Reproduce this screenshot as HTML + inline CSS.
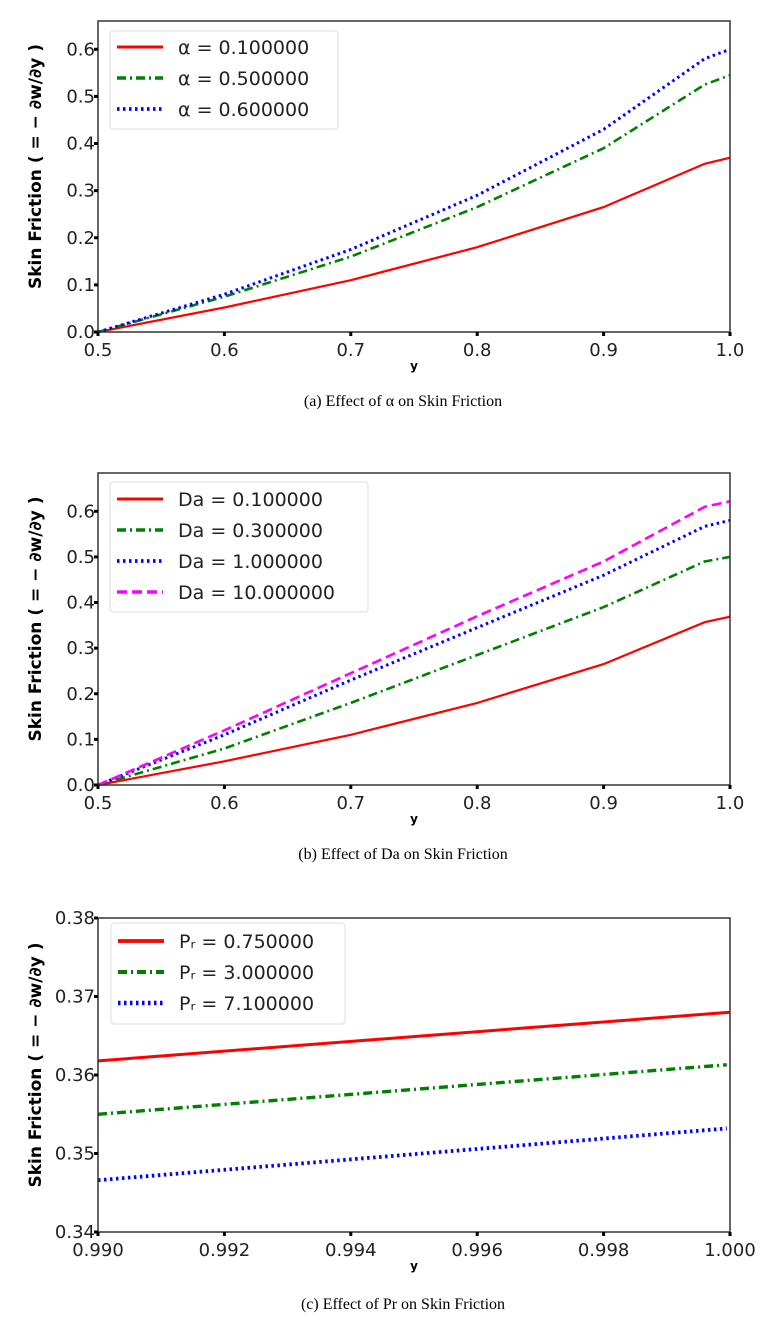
<!DOCTYPE html>
<html><head><meta charset="utf-8">
<style>
body{margin:0;background:#fff;}
svg{display:block;}
text{font-family:"DejaVu Sans","Liberation Sans",sans-serif;}
.cap{font-family:"Liberation Serif",serif;font-size:16px;}
</style></head>
<body>
<svg id="fig" width="766" height="1322" xmlns="http://www.w3.org/2000/svg"></svg>
<script>
// ---- Chart A data ----
const aX = [0.5,0.6,0.7,0.8,0.9,0.98,1.0];
const aRed = [0,0.052,0.11,0.18,0.265,0.357,0.37];
const aGreen = [0,0.075,0.16,0.265,0.39,0.525,0.545];
const aBlue = [0,0.08,0.175,0.29,0.43,0.58,0.6];
const aLabels = ["\u03b1 = 0.100000","\u03b1 = 0.500000","\u03b1 = 0.600000"];
const aXTicks = [0.5,0.6,0.7,0.8,0.9,1.0];
const aYTicks = [0,0.1,0.2,0.3,0.4,0.5,0.6];
// ---- Chart B data ----
const bX = [0.5,0.6,0.7,0.8,0.9,0.98,1.0];
const bRed = [0,0.052,0.11,0.18,0.265,0.357,0.369];
const bGreen = [0,0.08,0.18,0.285,0.39,0.49,0.50];
const bBlue = [0,0.11,0.23,0.345,0.46,0.567,0.58];
const bMag = [0,0.12,0.245,0.37,0.49,0.61,0.622];
const bLabels = ["Da = 0.100000","Da = 0.300000","Da = 1.000000","Da = 10.000000"];
// ---- Chart C data ----
const cX = [0.990,1.000];
const cXg = [0.990,0.99995];
const cRed = [0.3618,0.3680];
const cGreen = [0.3550,0.3613];
const cBlue = [0.3466,0.3532];
const cLabels = ["P\u1d63 = 0.750000","P\u1d63 = 3.000000","P\u1d63 = 7.100000"];
const cXTicks = [0.990,0.992,0.994,0.996,0.998,1.000];
const cYTicks = [0.34,0.35,0.36,0.37,0.38];

const NS="http://www.w3.org/2000/svg";
const svg=document.getElementById('fig');
function mk(tag,attrs,parent){const e=document.createElementNS(NS,tag);for(const k in attrs)e.setAttribute(k,attrs[k]);(parent||svg).appendChild(e);return e;}

const styles={
 red:{stroke:'#ff0000',dash:'',w:2.2},
 green:{stroke:'#008000',dash:'9,4,2,4',w:2.6},
 blue:{stroke:'#0000ff',dash:'2.5,3.5',w:3},
 mag:{stroke:'#ff00ff',dash:'10,5',w:2.6}
};

function chart(cfg){
 const g=mk('g',{});
 
 
 const L=98,R=730,T=cfg.top,B=cfg.bottom;
 const sx=v=>L+(v-cfg.xmin)/(cfg.xmax-cfg.xmin)*(R-L);
 const sy=v=>B-(v-cfg.ymin)/(cfg.ymax-cfg.ymin)*(B-T);
 cfg.series.forEach(s=>{
  const st=styles[s.style];
  const pts=s.x.map((x,i)=>sx(x).toFixed(1)+','+sy(s.y[i]).toFixed(1)).join(' ');
  const p=mk('polyline',{points:pts,fill:'none',stroke:st.stroke,'stroke-width':st.w+(cfg.thick?0.8:0),'stroke-dasharray':st.dash},g);
  
  
 });
 const fr=mk('rect',{x:L,y:T,width:R-L,height:B-T,fill:'none',stroke:'#333','stroke-width':1.5},g);
 
 
 cfg.xticks.forEach(v=>{
  mk('line',{x1:sx(v),x2:sx(v),y1:B,y2:B+4,stroke:'#000','stroke-width':3},g);
  const t=mk('text',{x:sx(v),y:B+24,'font-size':18,'text-anchor':'middle',fill:'#222'},g);
  t.textContent=v.toFixed(cfg.xdec);
  
  
 });
 cfg.yticks.forEach(v=>{
  mk('line',{x1:L-4,x2:L,y1:sy(v),y2:sy(v),stroke:'#000','stroke-width':3},g);
  const t=mk('text',{x:L-3,y:sy(v)+6,'font-size':18,'text-anchor':'end',fill:'#222'},g);
  t.textContent=v.toFixed(cfg.ydec);
  
  
 });
 const xl=mk('text',{x:(L+R)/2,y:B+38,'font-size':12,'font-weight':'bold','text-anchor':'middle'},g);
 xl.textContent='y';
 
 
 const cy=(T+B)/2-10;
 const yl=mk('text',{x:0,y:0,'font-size':17,'font-weight':'bold','text-anchor':'middle',transform:`translate(41,${cy}) rotate(-90)`},g);
 yl.textContent='Skin Friction ( = \u2212 \u2202w/\u2202y )';
 
 
 const lg=mk('g',{},g);
 
 
 mk('rect',{x:cfg.lx,y:cfg.ly,width:cfg.lw,height:cfg.lh,rx:3,fill:'#fff',stroke:'#ddd','stroke-width':1},lg);
 cfg.series.forEach((s,i)=>{
  const st=styles[s.style];
  const y=cfg.ly+cfg.rowStart+i*cfg.rowH;
  mk('line',{x1:cfg.lx+7,x2:cfg.lx+53,y1:y,y2:y,stroke:st.stroke,'stroke-width':st.w+(cfg.thick?1.5:0.8),'stroke-dasharray':st.dash},lg);
  const t=mk('text',{x:cfg.lx+68,y:y+7,'font-size':19,fill:'#222'},lg);
  t.textContent=s.label;
  
  
 });
 const c=mk('text',{x:403,y:cfg.capY,'text-anchor':'middle',class:'cap'},g);
 c.textContent=cfg.caption;
 
 
}

chart({name:'chart-alpha',top:21,bottom:332,xmin:0.5,xmax:1.0,ymin:0,ymax:0.66,xticks:aXTicks,yticks:aYTicks,xdec:1,ydec:1,
 series:[{x:aX,y:aRed,style:'red',label:aLabels[0]},{x:aX,y:aGreen,style:'green',label:aLabels[1]},{x:aX,y:aBlue,style:'blue',label:aLabels[2]}],
 lx:110,ly:31,lw:228,lh:98,rowStart:16,rowH:31,capY:406,caption:'(a) Effect of \u03b1 on Skin Friction'});
chart({name:'chart-da',top:473,bottom:785,xmin:0.5,xmax:1.0,ymin:0,ymax:0.684,xticks:aXTicks,yticks:aYTicks,xdec:1,ydec:1,
 series:[{x:bX,y:bRed,style:'red',label:bLabels[0]},{x:bX,y:bGreen,style:'green',label:bLabels[1]},{x:bX,y:bBlue,style:'blue',label:bLabels[2]},{x:bX,y:bMag,style:'mag',label:bLabels[3]}],
 lx:110,ly:482,lw:258,lh:130,rowStart:17,rowH:31,capY:859,caption:'(b) Effect of Da on Skin Friction'});
chart({name:'chart-pr',top:918,bottom:1232,xmin:0.990,xmax:1.000,ymin:0.34,ymax:0.38,xticks:cXTicks,yticks:cYTicks,xdec:3,ydec:2,thick:true,
 series:[{x:cX,y:cRed,style:'red',label:cLabels[0]},{x:cXg,y:cGreen,style:'green',label:cLabels[1]},{x:cXg,y:cBlue,style:'blue',label:cLabels[2]}],
 lx:111,ly:923,lw:234,lh:101,rowStart:18,rowH:31,capY:1309,caption:'(c) Effect of Pr on Skin Friction'});
</script>
</body></html>
